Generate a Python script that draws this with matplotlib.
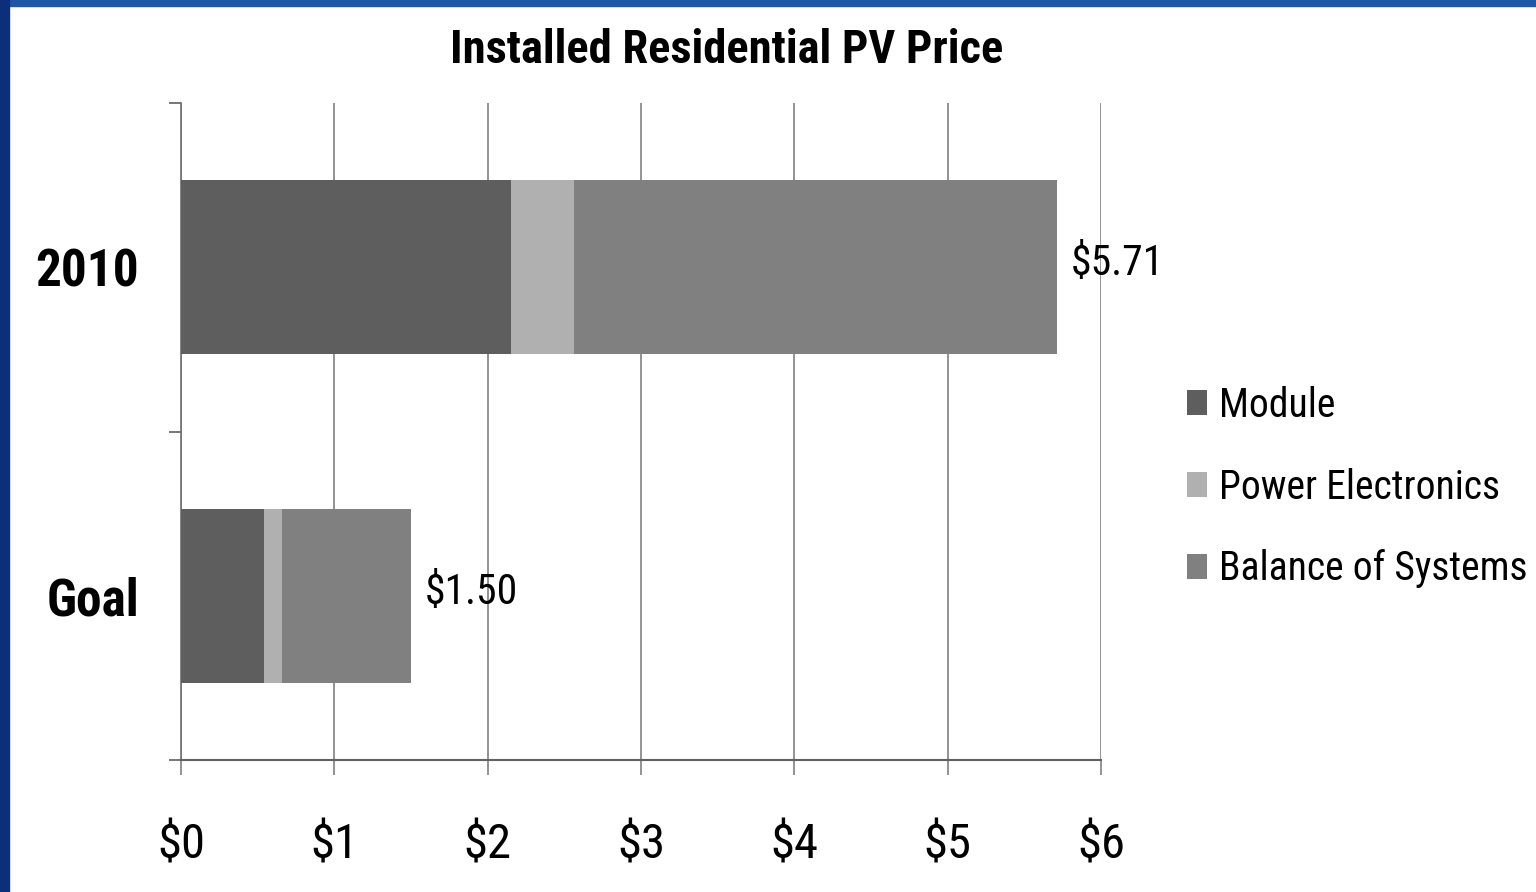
import matplotlib
matplotlib.use("Agg")
import matplotlib.pyplot as plt
from matplotlib import font_manager
from matplotlib.patches import Rectangle
import numpy as np

# ---- data ----
categories = ["Goal", "2010"]
components = ["Module", "Power Electronics", "Balance of Systems"]
module = [0.54, 2.15]
power_electronics = [0.12, 0.41]
balance_of_systems = [0.84, 3.15]
totals = [1.50, 5.71]
x_ticks = [0, 1, 2, 3, 4, 5, 6]
x_tick_labels = ["$0", "$1", "$2", "$3", "$4", "$5", "$6"]

colors = ["#5e5e5e", "#b0b0b0", "#808080"]

# narrow-ish font, closest thing to the Gill Sans in the slide
available = {f.name for f in font_manager.fontManager.ttflist}
family = "DejaVu Sans"
for cand in ["Liberation Sans Narrow", "Roboto Condensed", "Lato", "Open Sans"]:
    if cand in available:
        family = cand
        break
plt.rcParams["font.family"] = [family, "DejaVu Sans"]

fig = plt.figure(figsize=(15.36, 8.92), dpi=100)
fig.set_facecolor("white")
ax = fig.add_axes([0.1178, 0.148, 0.599, 0.7365])

y = np.arange(len(categories))
left = np.zeros(len(categories))
for name, vals, c in zip(components, [module, power_electronics, balance_of_systems], colors):
    ax.barh(y, vals, left=left, height=0.53, color=c, label=name, zorder=3)
    left += np.array(vals)

for yi, tot in zip(y, totals):
    ax.text(tot + 0.09, yi + 0.01, f"${tot:.2f}", va="center", ha="left", fontsize=30, zorder=4)

ax.set_xlim(0, 6)
ax.set_ylim(-0.5, 1.5)
ax.set_xticks(x_ticks)
ax.set_xticklabels(x_tick_labels, fontsize=35)
ax.set_yticks(y)
ax.set_yticklabels(categories, fontsize=37, fontweight="bold")
ax.set_yticks([-0.5, 0.5, 1.5], minor=True)

ax.grid(axis="x", color="#808080", linewidth=1.2, zorder=0)
ax.tick_params(axis="x", direction="out", length=11, width=1.2, color="#808080", pad=34)
ax.tick_params(axis="y", which="major", length=0, pad=30)
ax.tick_params(axis="y", which="minor", length=9, width=1.2, color="#606060")

for s in ["top", "right"]:
    ax.spines[s].set_visible(False)
ax.spines["left"].set_color("#707070")
ax.spines["bottom"].set_color("#606060")
ax.spines["left"].set_linewidth(1.2)
ax.spines["bottom"].set_linewidth(1.5)

fig.text(0.473, 0.944, "Installed Residential PV Price", ha="center", va="center",
         fontsize=33.5, fontweight="bold")

ax.legend(loc="center left", bbox_to_anchor=(0.773, 0.454), bbox_transform=fig.transFigure,
          frameon=False, fontsize=28.5, handlelength=0.5, handleheight=0.6,
          handletextpad=0.3, labelspacing=1.08, borderpad=0, borderaxespad=0)

# blue slide frame on top and left
fig.patches.append(Rectangle((0, 1 - 6 / 892), 1, 6 / 892, transform=fig.transFigure,
                             color="#1f56a8", zorder=10))
fig.patches.append(Rectangle((0, 0), 9 / 1536, 1, transform=fig.transFigure,
                             color="#0b2f78", zorder=10))

fig.savefig("out.png", dpi=100)
